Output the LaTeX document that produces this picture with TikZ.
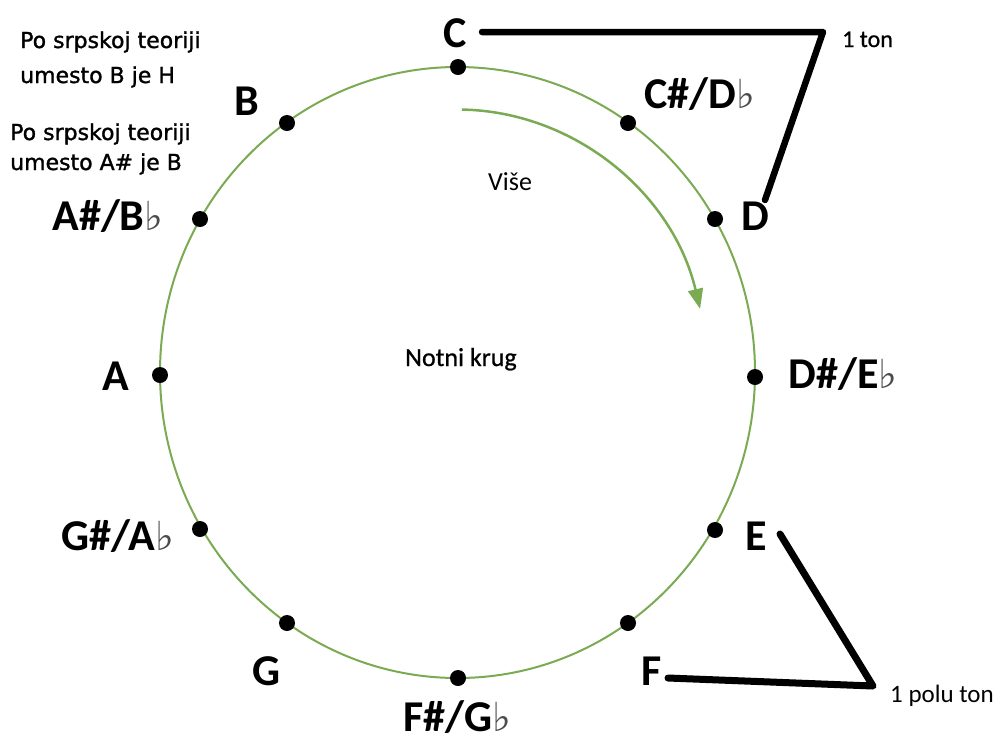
\documentclass[tikz,border=0pt]{standalone}
\usepackage{fontspec}
\setmainfont{Carlito}
\newfontfamily\notefont{DejaVu Sans}
\newfontfamily\remarkfont{DejaVu Sans}[FakeBold=1.3]
\newfontfamily\capfont{Carlito}[FakeBold=0.8]
\usetikzlibrary{arrows.meta}
\definecolor{ringgreen}{RGB}{122,170,82}
\newcommand{\flt}{{\notefont\fontsize{40}{40}\selectfont\color{black!70}♭}}
\tikzset{
  note/.style={font=\bfseries\fontsize{44}{50}\selectfont, anchor=base, inner sep=0pt},
  pitch/.style={circle, fill=black, minimum size=16pt, inner sep=0pt},
  remark/.style={font=\remarkfont\fontsize{22}{26}\selectfont, anchor=base west, inner sep=0pt},
  plain/.style={anchor=base west, inner sep=0pt},
  bracket/.style={line width=6.5pt, line cap=round, line join=round},
}
\begin{document}
\begin{tikzpicture}[x=1pt, y=-1pt]
\useasboundingbox (0,0) rectangle (1000,740);
\coordinate (ctr) at (457.5,372.5);

% the ring of twelve semitones
\draw[ringgreen, line width=2pt] (ctr) ellipse[x radius=297.5, y radius=305.5];

% direction of rising pitch
\draw[ringgreen, line width=2.5pt, -{Triangle[length=20pt,width=15pt]}]
  ([shift={(-89:250 and 263)}]ctr) arc[start angle=-89, end angle=-14, x radius=250, y radius=263];

% points on the ring
\node[pitch] (pC)  at (458,67) {};
\node[pitch] (pCs) at (628,123) {};
\node[pitch] (pD)  at (715,219) {};
\node[pitch] (pDs) at (755,377) {};
\node[pitch] (pE)  at (715,530) {};
\node[pitch] (pF)  at (628,623) {};
\node[pitch] (pFs) at (458,678) {};
\node[pitch] (pG)  at (287,623) {};
\node[pitch] (pGs) at (200,529) {};
\node[pitch] (pA)  at (160,375) {};
\node[pitch] (pAs) at (200,219) {};
\node[pitch] (pB)  at (287,123) {};

% note names
\node[note] (C)  at (455,47)  {C};
\node[note] (Cs) at (700,108) {C\#/D\flt};
\node[note] (D)  at (755,230) {D};
\node[note] (Ds) at (843,388) {D\#/E\flt};
\node[note] (E)  at (756,550) {E};
\node[note] (F)  at (652,685) {F};
\node[note] (Fs) at (457,731) {F\#/G\flt};
\node[note] (G)  at (267,685) {G};
\node[note] (Gs) at (118,550) {G\#/A\flt};
\node[note] (A)  at (116,390) {A};
\node[note] (As) at (108,230) {A\#/B\flt};
\node[note] (B)  at (247,115) {B};

% remarks on Serbian naming
\node[remark] (r1) at (20,48)  {Po srpskoj teoriji};
\node[remark] (r2) at (20,83)  {umesto B je H};
\node[remark] (r3) at (10,140) {Po srpskoj teoriji};
\node[remark] (r4) at (10,170) {umesto A\# je B};

% centre captions
\node[plain, font=\capfont\fontsize{26}{30}\selectfont] (title) at (405,366) {Notni krug};
\node[plain, font=\fontsize{26}{30}\selectfont] (up) at (488,190) {Više};

% whole tone bracket C--D
\node[plain, font=\capfont\fontsize{24}{28}\selectfont] (ton) at (842,47) {1 ton};
\coordinate (tA) at (482,32);
\coordinate (tK) at (823,32);
\coordinate (tB) at (765,200);
\draw[bracket] (tA) -- (tK) -- (tB);

% half tone bracket E--F
\node[plain, font=\fontsize{25}{28}\selectfont] (polu) at (890,702) {1 polu ton};
\coordinate (hA) at (780,534);
\coordinate (hK) at (873,686);
\coordinate (hB) at (668,678);
\draw[bracket, line width=7pt] (hA) -- (hK) -- (hB);
\end{tikzpicture}
\end{document}
